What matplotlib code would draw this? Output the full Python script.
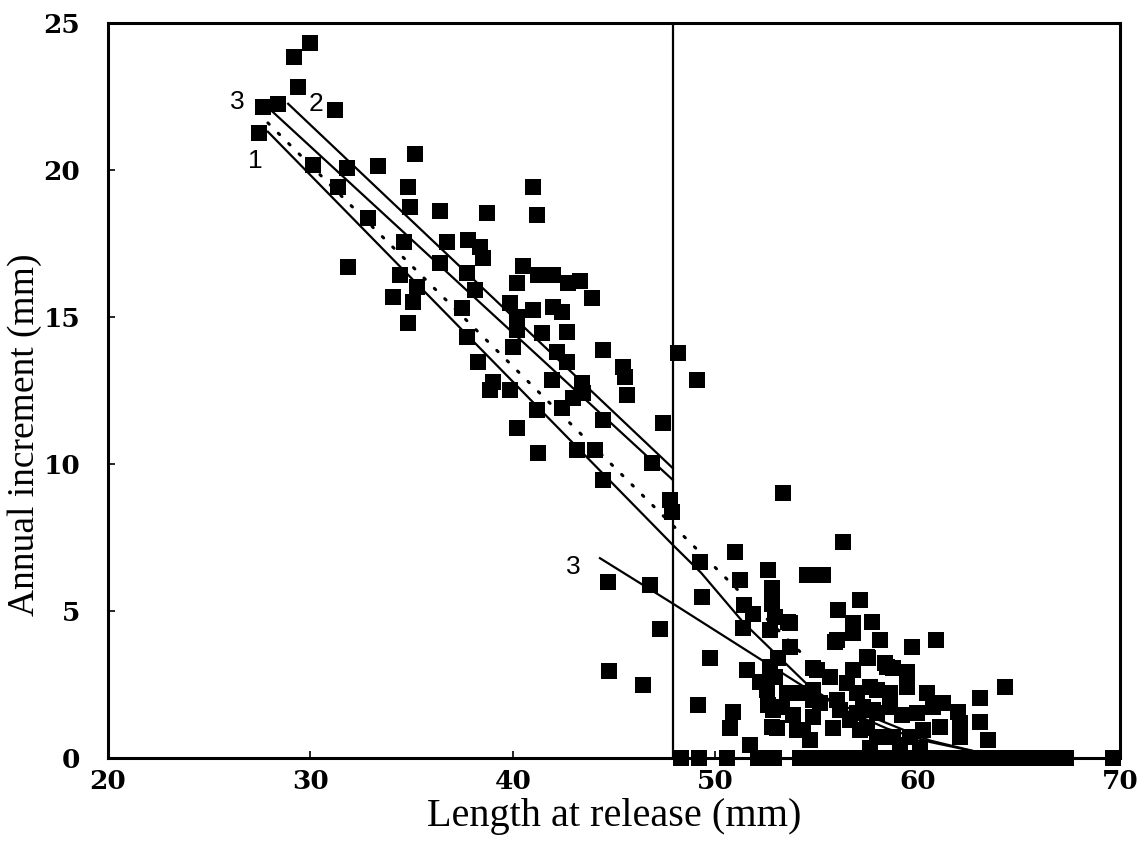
import matplotlib
matplotlib.use('Agg')
import matplotlib.pyplot as plt

# scatter points (length at release, annual increment)
len_left = [29.98, 29.19, 29.39, 31.22, 27.66, 28.40, 27.46, 30.13, 31.81, 33.34,
            35.17, 34.82, 31.36, 34.92, 36.40, 38.73, 32.85, 41.00, 41.20, 34.60,
            36.75, 37.79, 38.38, 38.53, 36.40, 31.86, 40.50, 37.74, 34.43, 41.25,
            41.99, 42.73, 43.32, 35.27, 34.08, 35.07, 38.13, 40.21, 39.86, 37.49,
            40.21, 43.91, 41.00, 41.99, 42.43, 34.82, 37.74, 40.21, 41.44, 42.68,
            40.01, 42.18, 44.46, 38.28, 42.68, 45.44, 45.54, 41.94, 39.02, 38.87,
            39.86, 43.42, 43.47, 42.97, 45.64, 42.43, 41.20, 44.46, 47.42, 40.21,
            41.25, 43.17, 44.06, 44.46, 46.88, 47.77, 47.87, 44.70, 46.78, 47.27,
            44.75, 46.43]
inc_left = [24.32, 23.84, 22.82, 22.04, 22.14, 22.24, 21.26, 20.17, 20.07, 20.14,
            20.54, 19.42, 19.42, 18.74, 18.61, 18.54, 18.37, 19.42, 18.47, 17.55,
            17.55, 17.62, 17.38, 17.00, 16.84, 16.70, 16.73, 16.50, 16.43, 16.43,
            16.43, 16.16, 16.22, 16.02, 15.68, 15.51, 15.92, 16.16, 15.48, 15.31,
            15.00, 15.65, 15.24, 15.34, 15.17, 14.80, 14.32, 14.56, 14.46, 14.49,
            13.98, 13.81, 13.88, 13.47, 13.47, 13.30, 12.96, 12.86, 12.79, 12.52,
            12.52, 12.76, 12.41, 12.24, 12.35, 11.90, 11.84, 11.50, 11.39, 11.22,
            10.37, 10.48, 10.48, 9.46, 10.03, 8.78, 8.37, 5.99, 5.88, 4.39,
            2.96, 2.48]

len_right = [48.16, 49.10, 53.35, 56.31, 50.98, 49.25, 52.61, 54.54, 55.33, 51.23,
             52.81, 49.35, 57.15, 52.81, 51.40, 56.07, 51.87, 52.95, 53.70, 56.81,
             57.75, 51.37, 52.71, 55.92, 56.81, 58.14, 59.72, 60.91, 53.70, 49.74,
             57.50, 58.39, 53.10, 51.57, 52.71, 52.95, 54.83, 55.67, 56.81, 58.78,
             59.48, 52.21, 52.56, 53.55, 54.83, 54.34, 56.51, 57.01, 57.65, 57.99,
             58.64, 59.48, 60.46, 61.25, 63.08, 64.32, 62.00, 63.08, 63.48, 62.10,
             62.10, 52.61, 53.30, 54.83, 53.84, 54.83, 56.02, 56.17, 57.30, 57.99,
             49.15, 50.88, 50.73, 53.05, 54.04, 54.68, 55.82, 56.66, 57.50, 51.72,
             52.86, 55.18, 57.01, 57.80, 58.64, 59.23, 59.97, 60.76, 52.81, 54.34,
             57.15, 57.99, 58.78, 59.62, 60.27, 61.11, 55.03, 58.49, 57.55, 56.02,
             53.60, 57.65, 59.13, 60.12]
inc_right = [13.78, 12.86, 9.01, 7.35, 7.01, 6.67, 6.39, 6.22, 6.22, 6.05,
             5.78, 5.48, 5.37, 5.24, 5.20, 5.03, 4.90, 4.80, 4.59, 4.59,
             4.63, 4.42, 4.35, 3.95, 4.25, 4.01, 3.78, 4.01, 3.78, 3.40,
             3.44, 3.23, 3.40, 2.99, 3.10, 2.76, 3.06, 2.76, 2.99, 3.06,
             2.93, 2.59, 2.31, 2.21, 2.31, 2.21, 2.55, 2.21, 2.41, 2.31,
             2.21, 2.41, 2.21, 1.87, 2.04, 2.41, 1.56, 1.22, 0.61, 1.19,
             0.71, 1.80, 1.73, 1.97, 1.46, 1.39, 1.97, 1.63, 1.73, 1.53,
             1.80, 1.56, 1.02, 1.02, 0.95, 0.61, 1.02, 1.29, 1.02, 0.44,
             1.63, 1.87, 1.53, 1.63, 1.73, 1.46, 1.53, 1.73, 1.05, 0.95,
             0.95, 0.71, 0.71, 0.71, 0.95, 1.05, 2.99, 3.10, 3.40, 4.01,
             4.63, 0.34, 0.44, 0.34]

# fish that did not grow
len_zero = [48.3, 49.2, 50.6, 52.1, 52.5, 52.9, 54.2, 54.6, 55.0, 55.4, 55.8,
            56.2, 56.6, 57.0, 57.4, 57.8, 58.2, 58.6, 59.0, 59.4, 59.8, 60.2,
            60.6, 61.0, 61.4, 61.8, 62.2, 62.6, 63.0, 63.4, 63.8, 64.2, 64.6,
            65.0, 65.4, 65.8, 66.2, 66.6, 67.0, 67.3, 69.65]
inc_zero = [0.0] * len(len_zero)

# fitted lines
fit1_x = [27.9, 47.9, 49.3, 51.4, 52.9, 54.7, 56.5, 58.5, 60.6, 63.0, 64.0, 70.0]
fit1_y = [21.3, 7.25, 6.3, 4.6, 3.6, 2.4, 1.6, 1.0, 0.55, 0.2, 0.0, 0.0]
fit2_x = [28.9, 47.9]
fit2_y = [22.25, 9.86]
fit3_x = [28.1, 47.9]
fit3_y = [22.0, 9.46]
fit3b_x = [44.3, 47.8, 50.2, 52.6, 55.2, 57.5, 60.6, 63.0, 64.0]
fit3b_y = [6.8, 5.3, 4.25, 3.2, 2.07, 1.46, 0.6, 0.2, 0.0]
dot_x = [27.9, 54.5]
dot_y = [21.6, 3.4]
break_len = 47.9

fig = plt.figure(figsize=(11.4, 8.49), dpi=100)
ax = fig.add_axes([0.0947, 0.107, 0.888, 0.866])

ms = 11
ax.plot(len_left, inc_left, 's', color='black', ms=ms, mew=0, clip_on=False)
ax.plot(len_right, inc_right, 's', color='black', ms=ms, mew=0, clip_on=False)
ax.plot(len_zero, inc_zero, 's', color='black', ms=ms, mew=0, clip_on=False)

ax.plot(fit1_x, fit1_y, color='black', lw=1.6)
ax.plot(fit2_x, fit2_y, color='black', lw=1.6)
ax.plot(fit3_x, fit3_y, color='black', lw=1.6)
ax.plot(fit3b_x, fit3b_y, color='black', lw=1.6)
ax.plot(dot_x, dot_y, color='black', lw=2.2, linestyle=(0, (0.6, 4.2)),
        dash_capstyle='round')
ax.axvline(break_len, color='black', lw=1.6)

lab = dict(fontsize=19, family='Liberation Sans', color='black', ha='center', va='center')
ax.text(26.4, 22.3, '3', **lab)
ax.text(30.3, 22.24, '2', **lab)
ax.text(27.3, 20.3, '1', **lab)
ax.text(42.97, 6.5, '3', **lab)

ax.set_xlim(20, 70)
ax.set_ylim(0, 25)
ax.set_xticks([20, 30, 40, 50, 60, 70])
ax.set_yticks([0, 5, 10, 15, 20, 25])
ax.tick_params(direction='in', length=5, width=1.2)
ax.tick_params(axis='x', pad=8)
ax.tick_params(axis='y', pad=20)
for t in ax.get_xticklabels() + ax.get_yticklabels():
    t.set_fontfamily('DejaVu Serif')
    t.set_fontweight('bold')
    t.set_fontsize(19)
for s in ax.spines.values():
    s.set_linewidth(2.2)

ax.set_xlabel('Length at release (mm)', family='Liberation Serif', fontsize=29, labelpad=3)
ax.set_ylabel('Annual increment (mm)', family='Liberation Serif', fontsize=27)
ax.yaxis.set_label_coords(-0.065, 0.44)

fig.savefig('out.png', dpi=100)
